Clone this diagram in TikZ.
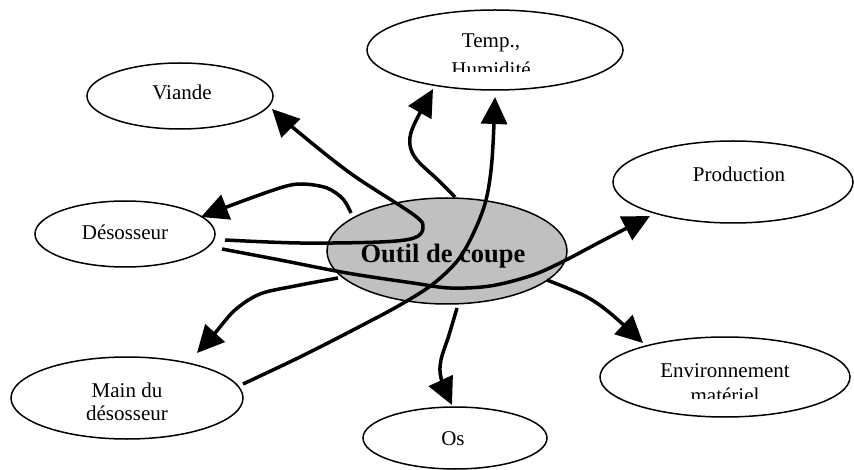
\documentclass[tikz,border=0pt]{standalone}
\usepackage{fontspec}
\setmainfont{Liberation Serif}
\usetikzlibrary{shapes.geometric,arrows.meta,calc}
\definecolor{toolgray}{RGB}{192,192,192}
\begin{document}
\begin{tikzpicture}[x=1pt,y=-1pt,
  bubble/.style={ellipse,draw,line width=1.5pt,inner sep=0pt,fill=white},
  txt/.style={inner sep=0pt,align=center,anchor=base,font=\fontsize{21}{25}\selectfont},
  flow/.style={line width=3.5pt,line join=round,-{Triangle[length=27pt,width=26pt]}}
]
\useasboundingbox (0,0) rectangle (854,470);

% bubbles
\node[bubble,minimum width=256pt,minimum height=80pt] (temp) at (495,50) {};
\node[bubble,minimum width=186pt,minimum height=66pt] (viande) at (180,96) {};
\node[bubble,minimum width=180pt,minimum height=66pt] (deso) at (125,234) {};
\node[bubble,minimum width=240pt,minimum height=82pt] (prod) at (733,182) {};
\node[bubble,minimum width=232pt,minimum height=82pt] (main) at (127,398) {};
\node[bubble,minimum width=250pt,minimum height=80pt] (env) at (725,377) {};
\node[bubble,minimum width=184pt,minimum height=62pt] (os) at (455,438) {};
\node[bubble,fill=toolgray,minimum width=240pt,minimum height=106pt] (outil) at (447,251) {};

% captions (a multi-line caption sits on the baseline of its last line)
\begin{scope}
  \clip (370,15) rectangle (620,72);
  \node[txt,font=\fontsize{21}{29}\selectfont] (ttemp) at (491,77) {Temp.,\\Humidité};
\end{scope}
\node[txt] (tviande) at (182,100) {Viande};
\node[txt] (tdeso) at (125,240) {Désosseur};
\node[txt] (tprod) at (739,182) {Production};
\node[txt,font=\fontsize{21}{23.5}\selectfont] (tmain) at (127,420.5) {Main du\\désosseur};
\begin{scope}
  \clip (600,345) rectangle (850,398);
  \node[txt,font=\fontsize{21}{25.5}\selectfont] (tenv) at (725,402.5) {Environnement\\matériel};
\end{scope}
\node[txt] (tos) at (453,445) {Os};
\node[txt,font=\bfseries\fontsize{26.5}{30}\selectfont] (toutil) at (443,263) {Outil de coupe};

% connectors
\draw[flow] plot[smooth,tension=0.55] coordinates {
  ($(deso.center)+(100,6)$) (300,243) (380,242) (414,238) (423,228) (414,215)
  (350,173) (291,126) ($(viande.center)+(92,13)$)};
\draw[flow] plot[smooth,tension=0.55] coordinates {
  ($(outil.center)+(-96,-38)$) (343,199) (327,188) (303,184) (283,187) (240,202)
  ($(deso.center)+(76,-17)$)};
\draw[flow] plot[smooth,tension=0.55] coordinates {
  ($(outil.center)+(8,-54)$) (438,180) (417,160) (410,145) (413,127)
  ($(temp.center)+(-62,39)$)};
\draw[flow] plot[smooth,tension=0.55] coordinates {
  ($(main.center)+(116,-14)$) (300,357) (355,329) (400,305) (433,284) (458,260)
  (474,232) (486,200) (492,160) ($(temp.center)+(0,47)$)};
\draw[flow] plot[smooth,tension=0.55] coordinates {
  ($(deso.center)+(97,15)$) (280,260) (347,273) (413,283) (450,288) (490,286)
  (530,276) (560,263) (600,242) ($(prod.center)+(-83,34)$)};
\draw[flow] plot[smooth,tension=0.55] coordinates {
  ($(outil.center)+(-109,27)$) (295,286) (260,294) (235,310) (215,333)
  ($(main.center)+(70,-45)$)};
\draw[flow] plot[smooth,tension=0.55] coordinates {
  ($(outil.center)+(10,57)$) (449,335) (441,360) (441,378)
  ($(os.center)+(-3,-33)$)};
\draw[flow] plot[smooth,tension=0.55] coordinates {
  ($(outil.center)+(100,29)$) (585,296) (610,313)
  ($(env.center)+(-82,-34)$)};
\end{tikzpicture}
\end{document}
